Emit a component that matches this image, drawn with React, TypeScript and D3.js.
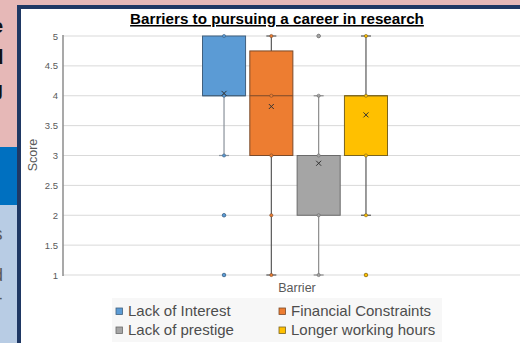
import React from "react";
import * as d3 from "d3";

// Box-and-whisker summary per barrier (scores 1–5)
const series = ["Lack of Interest", "Financial Constraints", "Lack of prestige", "Longer working hours"];
const q1 = [4, 3, 2, 3];
const medians = [4, 4, 3, 4];
const q3 = [5, 4.75, 3, 4];
const whiskerLow = [3, 1, 1, 2];
const whiskerHigh = [5, 5, 4, 5];
const means = [4.04, 3.82, 2.87, 3.68];
const outliers = [[2, 1], [], [5], [1]];
const points = [
  [5, 4, 3, 2, 1],
  [5, 4, 3, 2, 1],
  [5, 4, 3, 2, 1],
  [5, 4, 3, 2, 1],
];
const yTicks = [1, 1.5, 2, 2.5, 3, 3.5, 4, 4.5, 5];

const fills = ["#5b9bd5", "#ed7d31", "#a5a5a5", "#ffc000"];
const strokes = ["#41607e", "#7a4a2a", "#6a6a6a", "#7a6420"];
const whiskerColors = ["#8a929b", "#595959", "#8c8c8c", "#595959"];

const W = 520;
const H = 343;

export default function App() {
  const y = d3.scaleLinear().domain([1, 5]).range([275, 36]);
  const x = d3.scaleBand<string>().domain(series).range([202.5, 387.5]).paddingInner(0.09).paddingOuter(0);
  const bw = x.bandwidth();
  const font = "'Liberation Sans', Arial, sans-serif";
  const capHalf = 5;

  return (
    <svg width={W} height={H} style={{ position: "absolute", left: 0, top: 0 }} fontFamily={font}>
      <defs>
        <clipPath id="strip">
          <rect x={0} y={0} width={16} height={H} />
        </clipPath>
      </defs>
      {/* slide background around the chart */}
      <rect x={0} y={0} width={W} height={H} fill="#ffffff" />
      <rect x={0} y={0} width={W} height={6} fill="#e6b8b7" />
      <rect x={0} y={0} width={17} height={147} fill="#e6b8b7" />
      <rect x={0} y={147} width={17} height={58} fill="#0070c0" />
      <rect x={0} y={205} width={17} height={H - 205} fill="#b8cce4" />
      <g clipPath="url(#strip)" fontWeight="bold">
        <text x={3} y={33} textAnchor="end" fontSize={20} fill="#111">e</text>
        <text x={3.5} y={64} textAnchor="end" fontSize={20} fill="#111">d</text>
        <text x={3} y={96} textAnchor="end" fontSize={20} fill="#111">g</text>
        <text x={2.5} y={240} textAnchor="end" fontSize={18} fill="#5a5a5a" fontWeight="normal">s</text>
        <text x={3} y={281} textAnchor="end" fontSize={18} fill="#5a5a5a" fontWeight="normal">d</text>
        <text x={2.5} y={304} textAnchor="end" fontSize={18} fill="#5a5a5a" fontWeight="normal">-</text>
      </g>
      {/* chart frame */}
      <rect x={17} y={6} width={W} height={H} fill="#ffffff" />
      <rect x={17} y={5} width={W - 17} height={4} fill="#1f3864" />
      <rect x={17} y={5} width={4} height={H - 5} fill="#1f3864" />

      {/* title */}
      <text x={277} y={24} textAnchor="middle" fontSize={15.2} fontWeight="bold" fill="#000" textDecoration="underline">
        Barriers to pursuing a career in research
      </text>

      {/* gridlines */}
      {yTicks.map((t) => (
        <line key={t} x1={63} x2={W} y1={y(t)} y2={y(t)} stroke="#d9d9d9" strokeWidth={1} />
      ))}
      {/* y axis */}
      <line x1={63} x2={63} y1={y(5) - 1} y2={y(1) + 1} stroke="#8c8c8c" strokeWidth={1.5} />
      {yTicks.map((t) => (
        <text key={t} x={58} y={y(t) + 3.5} textAnchor="end" fontSize={9.5} fill="#595959">
          {t}
        </text>
      ))}
      <text transform={`translate(37,155) rotate(-90)`} textAnchor="middle" fontSize={12.5} fill="#595959">
        Score
      </text>
      <text x={297} y={292} textAnchor="middle" fontSize={12.5} fill="#595959">
        Barrier
      </text>

      {/* boxes */}
      {series.map((s, i) => {
        const x0 = x(s)!;
        const cx = x0 + bw / 2;
        const wc = whiskerColors[i];
        return (
          <g key={s}>
            {whiskerHigh[i] > q3[i] && (
              <>
                <line x1={cx} x2={cx} y1={y(q3[i])} y2={y(whiskerHigh[i])} stroke={wc} strokeWidth={1.2} />
                <line x1={cx - capHalf} x2={cx + capHalf} y1={y(whiskerHigh[i])} y2={y(whiskerHigh[i])} stroke={wc} strokeWidth={1.2} />
              </>
            )}
            {whiskerLow[i] < q1[i] && (
              <>
                <line x1={cx} x2={cx} y1={y(q1[i])} y2={y(whiskerLow[i])} stroke={wc} strokeWidth={1.2} />
                <line x1={cx - capHalf} x2={cx + capHalf} y1={y(whiskerLow[i])} y2={y(whiskerLow[i])} stroke={wc} strokeWidth={1.2} />
              </>
            )}
            <rect
              x={x0}
              y={y(q3[i])}
              width={bw}
              height={y(q1[i]) - y(q3[i])}
              fill={fills[i]}
              stroke={strokes[i]}
              strokeWidth={1}
            />
            <line x1={x0} x2={x0 + bw} y1={y(medians[i])} y2={y(medians[i])} stroke={strokes[i]} strokeWidth={1} />
            {points[i].map((p, k) => (
              <circle key={k} cx={cx} cy={y(p)} r={1.6} fill={fills[i]} stroke={strokes[i]} strokeWidth={0.6} />
            ))}
            {outliers[i].map((p, k) => (
              <circle key={"o" + k} cx={cx} cy={y(p)} r={1.8} fill={fills[i]} stroke={strokes[i]} strokeWidth={0.6} />
            ))}
            <g stroke="#333" strokeWidth={1}>
              <line x1={cx - 2.5} x2={cx + 2.5} y1={y(means[i]) - 2.5} y2={y(means[i]) + 2.5} />
              <line x1={cx - 2.5} x2={cx + 2.5} y1={y(means[i]) + 2.5} y2={y(means[i]) - 2.5} />
            </g>
          </g>
        );
      })}

      {/* legend */}
      <rect x={112} y={298} width={330} height={44} fill="#f7f7f7" />
      {series.map((s, i) => {
        const col = i % 2;
        const row = Math.floor(i / 2);
        const lx = col === 0 ? 119 : 282;
        const ly = row === 0 ? 311 : 330;
        return (
          <g key={s}>
            <rect x={lx - 3} y={ly - 3} width={6.5} height={6.5} fill={fills[i]} stroke={strokes[i]} strokeWidth={0.8} />
            <text x={lx + 9} y={ly + 5} fontSize={15} fill="#4d4d4d">
              {s}
            </text>
          </g>
        );
      })}
    </svg>
  );
}
